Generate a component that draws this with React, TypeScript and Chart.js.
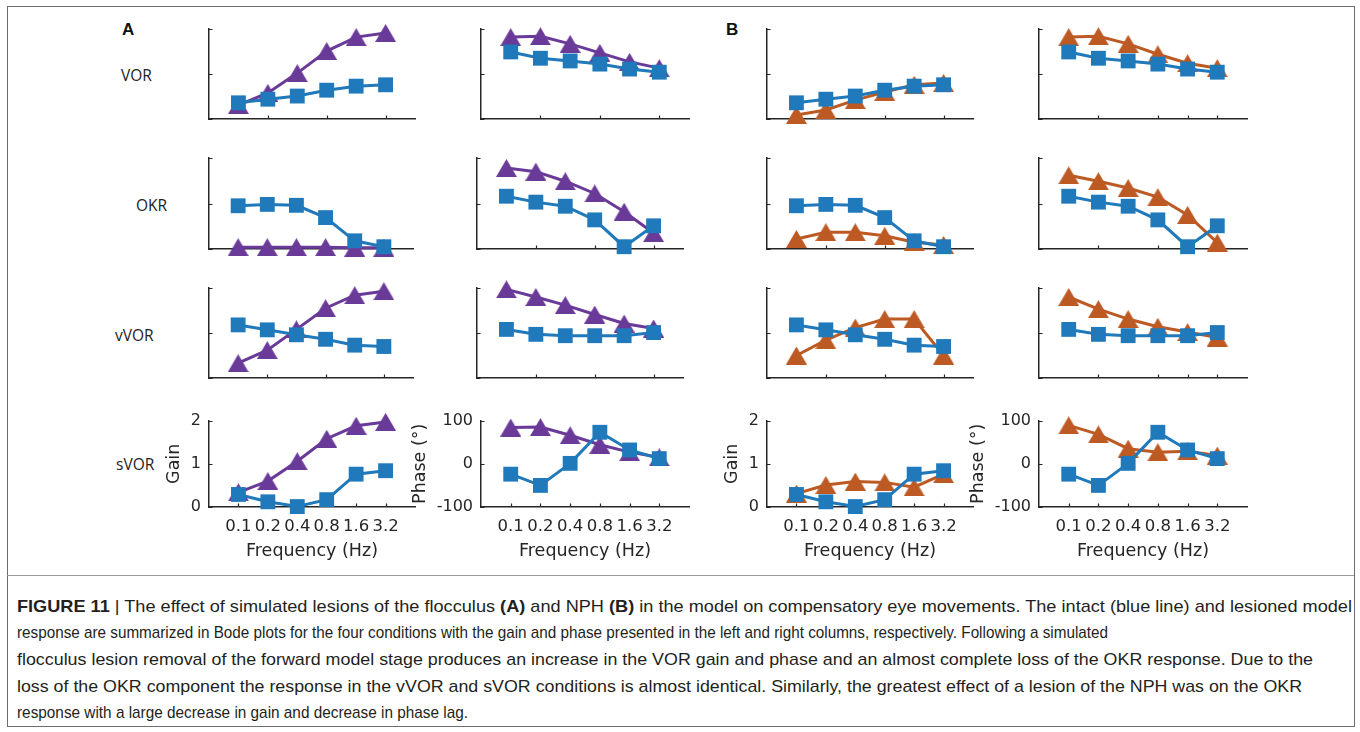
import React, { useEffect, useLayoutEffect, useRef } from 'react';
import { Chart, registerables } from 'chart.js';

Chart.register(...registerables);

// ---------- data ----------
const frequencies = ['0.1', '0.2', '0.4', '0.8', '1.6', '3.2'];
const freqIndex = [0, 1, 2, 3, 4, 5];
const gainTicks = [0, 1, 2];
const phaseTicks = [-100, 0, 100];

// intact model (blue squares)
const intactVORGain = [0.36, 0.44, 0.51, 0.64, 0.73, 0.76];
const intactVORPhase = [49, 35, 29, 22, 11, 4];
const intactOKRGain = [0.95, 0.98, 0.96, 0.69, 0.18, 0.05];
const intactOKRPhase = [16, 3, -6, -36, -95, -49];
const intactVVORGain = [1.18, 1.07, 0.96, 0.86, 0.73, 0.7];
const intactVVORPhase = [8, -3, -6, -6, -6, 1];
const intactSVORGain = [0.29, 0.12, 0.01, 0.17, 0.76, 0.84];
const intactSVORPhase = [-24, -50, 1, 73, 32, 12];

// flocculus lesion (A, purple triangles)
const flocVORGain = [0.31, 0.58, 1.02, 1.51, 1.82, 1.91];
const flocVORPhase = [82, 84, 67, 47, 27, 13];
const flocOKRGain = [0.04, 0.04, 0.04, 0.04, 0.03, 0.03];
const flocOKRPhase = [78, 70, 49, 22, -18, -65];
const flocVVORGain = [0.33, 0.62, 1.08, 1.55, 1.84, 1.93];
const flocVVORPhase = [97, 80, 62, 41, 21, 10];
const flocSVORGain = [0.34, 0.6, 1.06, 1.58, 1.88, 1.97];
const flocSVORPhase = [84, 85, 66, 44, 27, 15];

// NPH lesion (B, orange triangles)
const nphVORGain = [0.09, 0.2, 0.42, 0.6, 0.76, 0.8];
const nphVORPhase = [82, 84, 67, 44, 24, 13];
const nphOKRGain = [0.22, 0.37, 0.37, 0.29, 0.15, 0.09];
const nphOKRPhase = [62, 49, 34, 14, -25, -86];
const nphVVORGain = [0.5, 0.84, 1.12, 1.31, 1.31, 0.5];
const nphVVORPhase = [80, 53, 31, 14, 2, -10];
const nphSVORGain = [0.31, 0.51, 0.59, 0.57, 0.46, 0.76];
const nphSVORPhase = [89, 68, 35, 27, 29, 19];

const rowLabels = ['VOR', 'OKR', 'vVOR', 'sVOR'];

// ---------- styles ----------
const BLUE = '#1f79ba';
const PURPLE = '#6a3a99';
const ORANGE = '#bd5a24';
const AXIS = '#262626';
const TICK_FONT = "'DejaVu Sans', Verdana, sans-serif";

type Kind = 'gain' | 'phase';
interface PanelCfg {
  row: number;
  col: number;
  kind: Kind;
  intact: number[];
  lesion: number[];
  lesionColor: string;
}

const panels: PanelCfg[] = [
  { row: 0, col: 0, kind: 'gain', intact: intactVORGain, lesion: flocVORGain, lesionColor: PURPLE },
  { row: 0, col: 1, kind: 'phase', intact: intactVORPhase, lesion: flocVORPhase, lesionColor: PURPLE },
  { row: 0, col: 2, kind: 'gain', intact: intactVORGain, lesion: nphVORGain, lesionColor: ORANGE },
  { row: 0, col: 3, kind: 'phase', intact: intactVORPhase, lesion: nphVORPhase, lesionColor: ORANGE },
  { row: 1, col: 0, kind: 'gain', intact: intactOKRGain, lesion: flocOKRGain, lesionColor: PURPLE },
  { row: 1, col: 1, kind: 'phase', intact: intactOKRPhase, lesion: flocOKRPhase, lesionColor: PURPLE },
  { row: 1, col: 2, kind: 'gain', intact: intactOKRGain, lesion: nphOKRGain, lesionColor: ORANGE },
  { row: 1, col: 3, kind: 'phase', intact: intactOKRPhase, lesion: nphOKRPhase, lesionColor: ORANGE },
  { row: 2, col: 0, kind: 'gain', intact: intactVVORGain, lesion: flocVVORGain, lesionColor: PURPLE },
  { row: 2, col: 1, kind: 'phase', intact: intactVVORPhase, lesion: flocVVORPhase, lesionColor: PURPLE },
  { row: 2, col: 2, kind: 'gain', intact: intactVVORGain, lesion: nphVVORGain, lesionColor: ORANGE },
  { row: 2, col: 3, kind: 'phase', intact: intactVVORPhase, lesion: nphVVORPhase, lesionColor: ORANGE },
  { row: 3, col: 0, kind: 'gain', intact: intactSVORGain, lesion: flocSVORGain, lesionColor: PURPLE },
  { row: 3, col: 1, kind: 'phase', intact: intactSVORPhase, lesion: flocSVORPhase, lesionColor: PURPLE },
  { row: 3, col: 2, kind: 'gain', intact: intactSVORGain, lesion: nphSVORGain, lesionColor: ORANGE },
  { row: 3, col: 3, kind: 'phase', intact: intactSVORPhase, lesion: nphSVORPhase, lesionColor: ORANGE },
];

// axes geometry (page pixels)
const rowTops = [29, 158, 288, 418];
const rowHeights = [90, 91, 90, 89];
const colLefts = [209, 481, 767, 1039];
const colWidths = [206, 208, 206, 208];

function geometry(row: number, col: number) {
  let left = colLefts[col];
  let width = colWidths[col];
  if ((row === 1 || row === 2) && col === 0) width = 204;
  if ((row === 1 || row === 2) && col === 1) {
    left = 477;
    width = 206;
  }
  return { left, top: rowTops[row], width, height: rowHeights[row] };
}

const PAD_L = 80;
const PAD_T = 15;
const PAD_R = 15;
const PAD_B = 62;

function makeTriangle(color: string) {
  const c = document.createElement('canvas');
  c.width = 21;
  c.height = 18;
  const g = c.getContext('2d')!;
  g.fillStyle = color;
  g.beginPath();
  g.moveTo(10.5, 0);
  g.lineTo(21, 18);
  g.lineTo(0, 18);
  g.closePath();
  g.fill();
  return c;
}

const innerTicks = {
  id: 'innerTicks',
  beforeDatasetsDraw(chart: any) {
    const { ctx, chartArea, scales } = chart;
    const xs = scales.x;
    const ys = scales.y;
    ctx.save();
    ctx.strokeStyle = AXIS;
    ctx.lineWidth = 1.2;
    ctx.beginPath();
    xs.ticks.forEach((t: any) => {
      const px = Math.round(xs.getPixelForValue(t.value)) + 0.5;
      ctx.moveTo(px, chartArea.bottom);
      ctx.lineTo(px, chartArea.bottom - 3.5);
    });
    ys.ticks.forEach((t: any) => {
      const py = Math.round(ys.getPixelForValue(t.value)) + 0.5;
      ctx.moveTo(chartArea.left, py);
      ctx.lineTo(chartArea.left + 3.5, py);
    });
    ctx.stroke();
    ctx.restore();
  },
};

function Panel({ cfg }: { cfg: PanelCfg }) {
  const ref = useRef<HTMLCanvasElement>(null);
  const g = geometry(cfg.row, cfg.col);
  const w = PAD_L + g.width + PAD_R;
  const h = PAD_T + g.height + PAD_B;
  const bottomRow = cfg.row === 3;

  useEffect(() => {
    const xTickIdx = bottomRow ? freqIndex : cfg.col === 3 ? [1, 3, 4, 5] : [1, 3, 5];
    const yTicks = cfg.kind === 'gain' ? gainTicks : phaseTicks;
    const toPts = (arr: number[]) => freqIndex.map((i) => ({ x: i, y: arr[i] }));
    const chart = new Chart(ref.current!, {
      type: 'line',
      data: {
        datasets: [
          {
            data: toPts(cfg.intact),
            borderColor: BLUE,
            backgroundColor: BLUE,
            borderWidth: 3,
            pointStyle: 'rect',
            pointRadius: 10.5,
            pointBorderWidth: 0,
            pointBackgroundColor: BLUE,
            clip: false as any,
          },
          {
            data: toPts(cfg.lesion),
            borderColor: cfg.lesionColor,
            backgroundColor: cfg.lesionColor,
            borderWidth: 3,
            pointStyle: makeTriangle(cfg.lesionColor) as any,
            pointRadius: 10,
            pointBorderWidth: 0,
            clip: false as any,
          },
        ],
      },
      options: {
        animation: false,
        responsive: false,
        devicePixelRatio: 1,
        events: [],
        layout: { padding: { left: 0, top: PAD_T, right: PAD_R, bottom: 0 } },
        plugins: { legend: { display: false }, tooltip: { enabled: false } },
        scales: {
          x: {
            type: 'linear',
            min: -1,
            max: 6,
            afterBuildTicks: (s: any) => {
              s.ticks = xTickIdx.map((v) => ({ value: v }));
            },
            afterFit: (s: any) => {
              s.height = PAD_B;
            },
            grid: { display: false, drawTicks: false },
            border: { display: true, color: AXIS, width: 1.5 },
            ticks: {
              display: bottomRow,
              autoSkip: false,
              maxRotation: 0,
              padding: 10,
              color: AXIS,
              font: { family: TICK_FONT, size: 16.5 },
              callback: (v: any) => frequencies[Number(v)] ?? '',
            },
            title: {
              display: bottomRow,
              text: 'Frequency (Hz)',
              color: AXIS,
              font: { family: TICK_FONT, size: 17.5 },
              padding: { top: 0, bottom: 7 },
            },
          },
          y: {
            type: 'linear',
            min: cfg.kind === 'gain' ? 0 : -100,
            max: cfg.kind === 'gain' ? 2 : 100,
            afterBuildTicks: (s: any) => {
              s.ticks = yTicks.map((v) => ({ value: v }));
            },
            afterFit: (s: any) => {
              s.width = PAD_L;
            },
            grid: { display: false, drawTicks: false },
            border: { display: true, color: AXIS, width: 1.5 },
            ticks: {
              display: bottomRow,
              padding: 8,
              color: AXIS,
              font: { family: TICK_FONT, size: 16 },
              callback: (v: any) => String(v),
            },
            title: {
              display: bottomRow,
              text: cfg.kind === 'gain' ? 'Gain' : 'Phase (°)',
              color: AXIS,
              font: { family: TICK_FONT, size: 17.5 },
              padding: { top: cfg.kind === 'gain' ? 35 : 9, bottom: 0 },
            },
          },
        },
      },
      plugins: [innerTicks],
    } as any);
    return () => chart.destroy();
  }, []);

  return (
    <canvas
      ref={ref}
      width={w}
      height={h}
      style={{ position: 'absolute', left: g.left - PAD_L, top: g.top - PAD_T, width: w, height: h }}
    />
  );
}

// ---------- caption ----------
const CAPTION_LEFT = 17;
const captionTops = [594, 620, 647, 674, 700];
const captionRights = [1352, 1108, 1313, 1302, 468];

function CaptionLine({ idx, children }: { idx: number; children: React.ReactNode }) {
  const ref = useRef<HTMLDivElement>(null);
  useLayoutEffect(() => {
    const el = ref.current!;
    el.style.transform = 'none';
    const wNat = el.getBoundingClientRect().width;
    const target = captionRights[idx] - CAPTION_LEFT;
    if (wNat > 0) el.style.transform = `scaleX(${target / wNat})`;
  }, []);
  return (
    <div
      ref={ref}
      style={{
        position: 'absolute',
        left: CAPTION_LEFT,
        top: captionTops[idx],
        whiteSpace: 'nowrap',
        display: 'inline-block',
        transformOrigin: '0 0',
        fontFamily: "'Liberation Sans Narrow', 'Liberation Sans', Arial, sans-serif",
        fontSize: 17,
        lineHeight: '26px',
        color: '#231f20',
      }}
    >
      {children}
    </div>
  );
}

const labelStyle: React.CSSProperties = {
  position: 'absolute',
  fontFamily: "'Open Sans', sans-serif",
  fontSize: 15.5,
  lineHeight: '20px',
  color: '#222',
  whiteSpace: 'nowrap',
};

const rowLabelPos = [
  { left: 121, top: 65 },
  { left: 136, top: 195 },
  { left: 115, top: 325 },
  { left: 116, top: 454 },
];

export default function App() {
  return (
    <div
      style={{
        position: 'absolute',
        left: 0,
        top: 0,
        width: 1360,
        height: 732,
        background: '#fff',
        overflow: 'hidden',
      }}
    >
      <div
        style={{
          position: 'absolute',
          left: 7,
          top: 6,
          width: 1346,
          height: 719,
          border: '1px solid #6d6d6d',
        }}
      />
      <div style={{ position: 'absolute', left: 7, top: 575, width: 1347, height: 1, background: '#9a9a9a' }} />

      <div
        style={{
          position: 'absolute',
          left: 122,
          top: 19,
          fontFamily: "'Liberation Sans', Arial, sans-serif",
          fontWeight: 700,
          fontSize: 17,
          lineHeight: '22px',
          color: '#111',
        }}
      >
        A
      </div>
      <div
        style={{
          position: 'absolute',
          left: 726,
          top: 19,
          fontFamily: "'Liberation Sans', Arial, sans-serif",
          fontWeight: 700,
          fontSize: 17,
          lineHeight: '22px',
          color: '#111',
        }}
      >
        B
      </div>
      {rowLabels.map((t, i) => (
        <div key={t} style={{ ...labelStyle, left: rowLabelPos[i].left, top: rowLabelPos[i].top }}>
          {t}
        </div>
      ))}

      {panels.map((p) => (
        <Panel key={`${p.row}-${p.col}`} cfg={p} />
      ))}

      <CaptionLine idx={0}>
        <b>FIGURE 11</b> | The effect of simulated lesions of the flocculus <b>(A)</b> and NPH <b>(B)</b> in the model on
        compensatory eye movements. The intact (blue line) and lesioned model
      </CaptionLine>
      <CaptionLine idx={1}>
        response are summarized in Bode plots for the four conditions with the gain and phase presented in the left and
        right columns, respectively. Following a simulated
      </CaptionLine>
      <CaptionLine idx={2}>
        flocculus lesion removal of the forward model stage produces an increase in the VOR gain and phase and an almost
        complete loss of the OKR response. Due to the
      </CaptionLine>
      <CaptionLine idx={3}>
        loss of the OKR component the response in the vVOR and sVOR conditions is almost identical. Similarly, the
        greatest effect of a lesion of the NPH was on the OKR
      </CaptionLine>
      <CaptionLine idx={4}>response with a large decrease in gain and decrease in phase lag.</CaptionLine>
    </div>
  );
}
